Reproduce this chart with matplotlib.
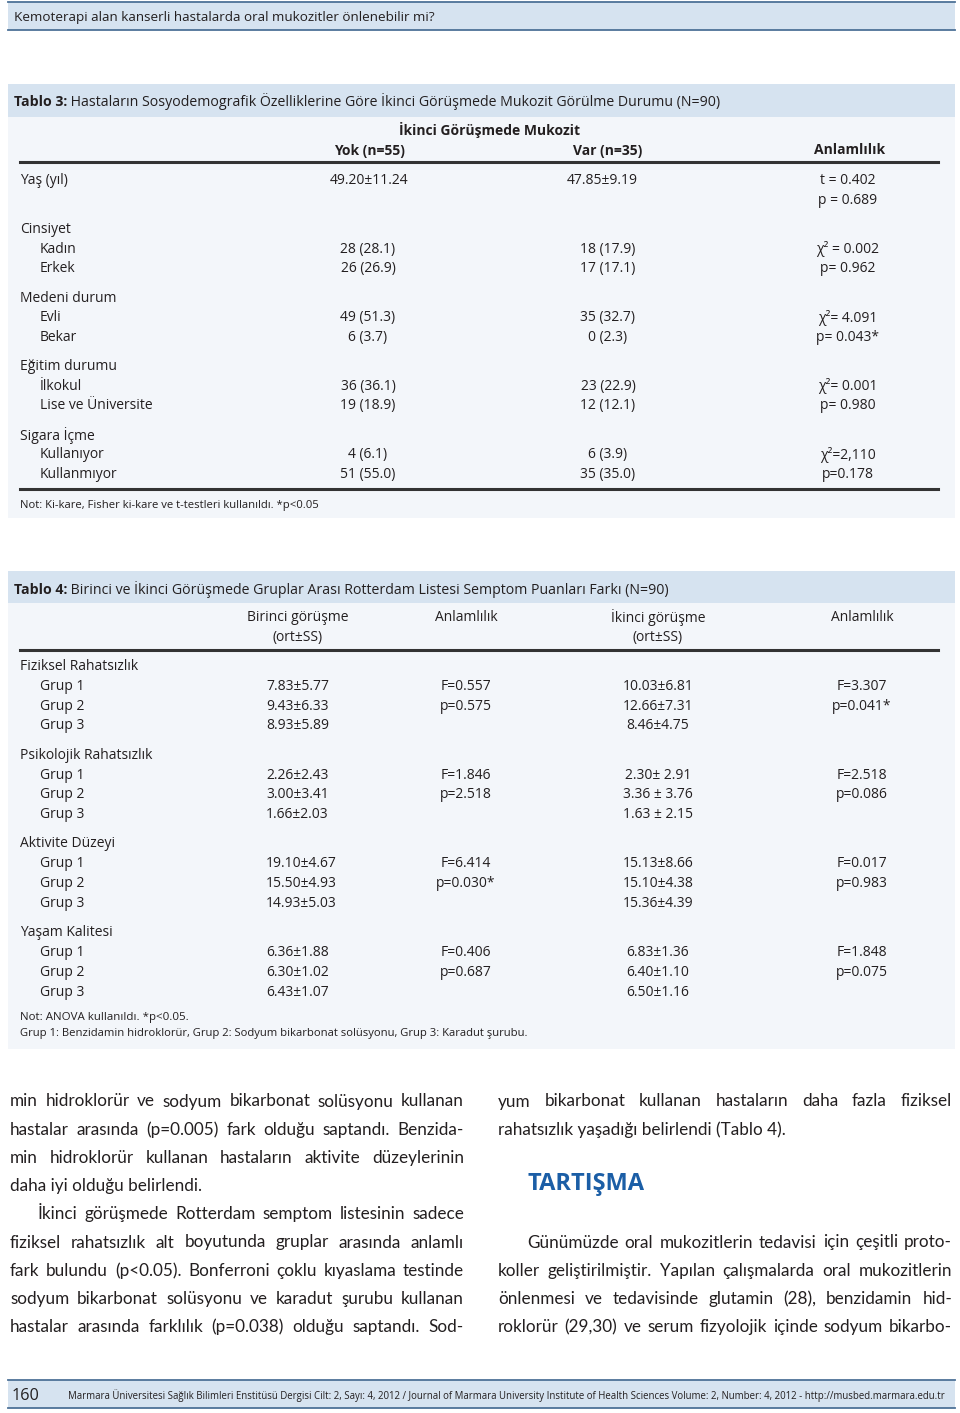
import matplotlib
matplotlib.use('Agg')
import matplotlib.pyplot as plt
from matplotlib import font_manager
from matplotlib.patches import Rectangle

installed = {f.name for f in font_manager.fontManager.ttflist}
SANS = 'Open Sans' if 'Open Sans' in installed else 'DejaVu Sans'
NARROW = 'Lato' if 'Lato' in installed else SANS

INK = '#231f20'
BAND = '#d6e3f0'
PANEL = '#f3f6fa'
EDGE = '#4d7297'
BLUE = '#1b5ea6'

# --- texts ---
running_head = 'Kemoterapi alan kanserli hastalarda oral mukozitler önlenebilir mi?'

t3_title = ('Tablo 3:', ' Hastaların Sosyodemografik Özelliklerine Göre İkinci Görüşmede Mukozit Görülme Durumu (N=90)')
t3_span = 'İkinci Görüşmede Mukozit'
t3_cols = ['Yok (n=55)', 'Var (n=35)', 'Anlamlılık']
t3_age = ['Yaş (yıl)', '49.20±11.24', '47.85±9.19', 't = 0.402', 'p = 0.689']
t3_groups = ['Cinsiyet', 'Medeni durum', 'Eğitim durumu', 'Sigara İçme']
t3_items = [['Kadın', 'Erkek'], ['Evli', 'Bekar'], ['İlkokul', 'Lise ve Üniversite'],
            ['Kullanıyor', 'Kullanmıyor']]
t3_yok = ['28 (28.1)', '26 (26.9)', '49 (51.3)', '6 (3.7)', '36 (36.1)', '19 (18.9)', '4 (6.1)', '51 (55.0)']
t3_var = ['18 (17.9)', '17 (17.1)', '35 (32.7)', '0 (2.3)', '23 (22.9)', '12 (12.1)', '6 (3.9)', '35 (35.0)']
t3_sig = ['χ² = 0.002', 'p= 0.962', 'χ²= 4.091', 'p= 0.043*', 'χ²= 0.001', 'p= 0.980', 'χ²=2,110', 'p=0.178']
t3_note = 'Not: Ki-kare, Fisher ki-kare ve t-testleri kullanıldı. *p<0.05'

t4_title = ('Tablo 4:', ' Birinci ve İkinci Görüşmede Gruplar Arası Rotterdam Listesi Semptom Puanları Farkı (N=90)')
t4_cols = [['Birinci görüşme', '(ort±SS)'], ['Anlamlılık'], ['İkinci görüşme', '(ort±SS)'], ['Anlamlılık']]
t4_groups = ['Fiziksel Rahatsızlık', 'Psikolojik Rahatsızlık', 'Aktivite Düzeyi', 'Yaşam Kalitesi']
t4_items = ['Grup 1', 'Grup 2', 'Grup 3']
t4_first = ['7.83±5.77', '9.43±6.33', '8.93±5.89', '2.26±2.43', '3.00±3.41', '1.66±2.03',
            '19.10±4.67', '15.50±4.93', '14.93±5.03', '6.36±1.88', '6.30±1.02', '6.43±1.07']
t4_first_sig = ['F=0.557', 'p=0.575', '', 'F=1.846', 'p=2.518', '', 'F=6.414', 'p=0.030*', '',
                'F=0.406', 'p=0.687', '']
t4_second = ['10.03±6.81', '12.66±7.31', '8.46±4.75', '2.30± 2.91', '3.36 ± 3.76', '1.63 ± 2.15',
             '15.13±8.66', '15.10±4.38', '15.36±4.39', '6.83±1.36', '6.40±1.10', '6.50±1.16']
t4_second_sig = ['F=3.307', 'p=0.041*', '', 'F=2.518', 'p=0.086', '', 'F=0.017', 'p=0.983', '',
                 'F=1.848', 'p=0.075', '']
t4_notes = ['Not: ANOVA kullanıldı. *p<0.05.',
            'Grup 1: Benzidamin hidroklorür, Grup 2: Sodyum bikarbonat solüsyonu, Grup 3: Karadut şurubu.']

# (text, justified)
left_lines = [
    ('min hidroklorür ve sodyum bikarbonat solüsyonu kullanan', True),
    ('hastalar arasında (p=0.005) fark olduğu saptandı. Benzida-', True),
    ('min hidroklorür kullanan hastaların aktivite düzeylerinin', True),
    ('daha iyi olduğu belirlendi.', False),
    ('İkinci görüşmede Rotterdam semptom listesinin sadece', True),
    ('fiziksel rahatsızlık alt boyutunda gruplar arasında anlamlı', True),
    ('fark bulundu (p<0.05). Bonferroni çoklu kıyaslama testinde', True),
    ('sodyum bikarbonat solüsyonu ve karadut şurubu kullanan', True),
    ('hastalar arasında farklılık (p=0.038) olduğu saptandı. Sod-', True),
]
right_top = [
    ('yum bikarbonat kullanan hastaların daha fazla fiziksel', True),
    ('rahatsızlık yaşadığı belirlendi (Tablo 4).', False),
]
heading = 'TARTIŞMA'
right_bottom = [
    ('Günümüzde oral mukozitlerin tedavisi için çeşitli proto-', True),
    ('koller geliştirilmiştir. Yapılan çalışmalarda oral mukozitlerin', True),
    ('önlenmesi ve tedavisinde glutamin (28), benzidamin hid-', True),
    ('roklorür (29,30) ve serum fizyolojik içinde sodyum bikarbo-', True),
]
page_no = '160'
footer = ('Marmara Üniversitesi Sağlık Bilimleri Enstitüsü Dergisi Cilt: 2, Sayı: 4, 2012 / '
          'Journal of Marmara University Institute of Health Sciences Volume: 2, Number: 4, 2012 - '
          'http://musbed.marmara.edu.tr')

W, H = 960, 1413
fig = plt.figure(figsize=(9.6, 14.13), dpi=100)
ax = fig.add_axes([0, 0, 1, 1])
ax.set_xlim(0, W)
ax.set_ylim(H, 0)
ax.axis('off')
renderer = fig.canvas.get_renderer()
DY = 1.5  # small vertical nudge for text


def width(t):
    return t.get_window_extent(renderer).width


def put(x, y, s, size=10, ha='left', weight='normal', family=None, color=INK, fit=None):
    t = ax.text(x, y + DY, s, fontsize=size, ha=ha, va='center', fontweight=weight,
                family=family or SANS, color=color)
    if fit:
        t.set_fontsize(size * fit / width(t))
    return t


def justify(s, x0, x1, y, size, family):
    words = s.split()
    ts = [put(x0, y, w, size, family=family) for w in words]
    ws = [width(t) for t in ts]
    gap = (x1 - x0 - sum(ws)) / (len(ws) - 1)
    x = x0
    for t, w in zip(ts, ws):
        t.set_x(x)
        x += w + gap


def band(y0, y1, lines=True):
    ax.add_patch(Rectangle((8, y0), 947, y1 - y0, facecolor=BAND, edgecolor='none'))
    if lines:
        ax.plot([8, 955], [y0, y0], color=EDGE, lw=1.3)
        ax.plot([8, 955], [y1, y1], color=EDGE, lw=1.3)


def title(parts, y, x1):
    b = put(14, y, parts[0], 11, weight='bold')
    r = put(14, y, parts[1], 11)
    scale = (x1 - 14) / (width(b) + width(r))
    b.set_fontsize(11 * scale)
    r.set_fontsize(11 * scale)
    r.set_x(14 + width(b))


# running head
band(2, 30)
put(14, 16, running_head, 9, fit=426)

# ---------- Tablo 3 ----------
ax.add_patch(Rectangle((8, 117), 947, 401, facecolor=PANEL, edgecolor='none'))
band(84, 117, lines=False)
title(t3_title, 100, 719)
put(490, 129, t3_span, 10, ha='center', weight='bold')
for x, c in zip([369, 608, 850], t3_cols):
    put(x, 149, c, 10, ha='center', weight='bold')
ax.plot([20, 938], [162, 162], color='#333333', lw=2.2)

put(20, 179, t3_age[0])
put(369, 179, t3_age[1], ha='center')
put(602, 179, t3_age[2], ha='center')
put(848, 179, t3_age[3], ha='center')
put(848, 198.5, t3_age[4], ha='center')

step3 = 19.6
k = 0
for g, (grp, items) in enumerate(zip(t3_groups, t3_items)):
    yg = 228 + g * 3.5 * step3
    put(20, yg, grp)
    for j, it in enumerate(items):
        y = yg + (j + 1) * step3
        put(40, y, it)
        put(368, y, t3_yok[k], ha='center')
        put(608, y, t3_var[k], ha='center')
        put(848, y, t3_sig[k], ha='center')
        k += 1
ax.plot([20, 938], [489, 489], color='#333333', lw=2.2)
put(20, 504, t3_note, 8, fit=300)

# ---------- Tablo 4 ----------
ax.add_patch(Rectangle((8, 603), 947, 446, facecolor=PANEL, edgecolor='none'))
band(571, 603, lines=False)
title(t4_title, 588, 666)
for x, col in zip([298, 466, 658, 862], t4_cols):
    for i, s in enumerate(col):
        put(x, 616 + 20 * i, s, 10, ha='center')
ax.plot([20, 938], [650, 650], color='#333333', lw=2.2)

step4 = 19.8
k = 0
for g, grp in enumerate(t4_groups):
    yg = 665 + g * 4.48 * step4
    put(20, yg, grp)
    for j, it in enumerate(t4_items):
        y = yg + (j + 1) * step4
        put(40, y, it)
        put(266, y, t4_first[k])
        put(466, y, t4_first_sig[k], ha='center')
        put(658, y, t4_second[k], ha='center')
        put(862, y, t4_second_sig[k], ha='center')
        k += 1
put(20, 1016, t4_notes[0], 8, fit=168)
put(20, 1032, t4_notes[1], 8, fit=511)

# ---------- body text ----------
body_family = NARROW
base = 14.0
scales = []
for s, just in left_lines + right_top + right_bottom:
    if just:
        t = put(0, -100, s, base, family=body_family)
        scales.append(446.0 / width(t))
        t.remove()
body = base * min(1.0, min(scales))

line_h = 28.2
for i, (s, just) in enumerate(left_lines):
    y = 1100 + i * line_h
    x0 = 38 if s.startswith('İkinci') else 10
    if just:
        justify(s, x0, 464, y, body, body_family)
    else:
        put(x0, y, s, body, family=body_family)

for i, (s, just) in enumerate(right_top):
    y = 1100 + i * line_h
    if just:
        justify(s, 498, 952, y, body, body_family)
    else:
        put(498, y, s, body, family=body_family)

put(527, 1182, heading, 16, weight='bold', color=BLUE, fit=118)

for i, (s, just) in enumerate(right_bottom):
    y = 1241 + i * line_h
    x0 = 527 if i == 0 else 498
    justify(s, x0, 952, y, body, body_family)

# footer
band(1380, 1408)
put(12, 1394, page_no, 12, fit=28)
put(68, 1394, footer, 7, fit=882)

fig.savefig('out.png', dpi=100)
